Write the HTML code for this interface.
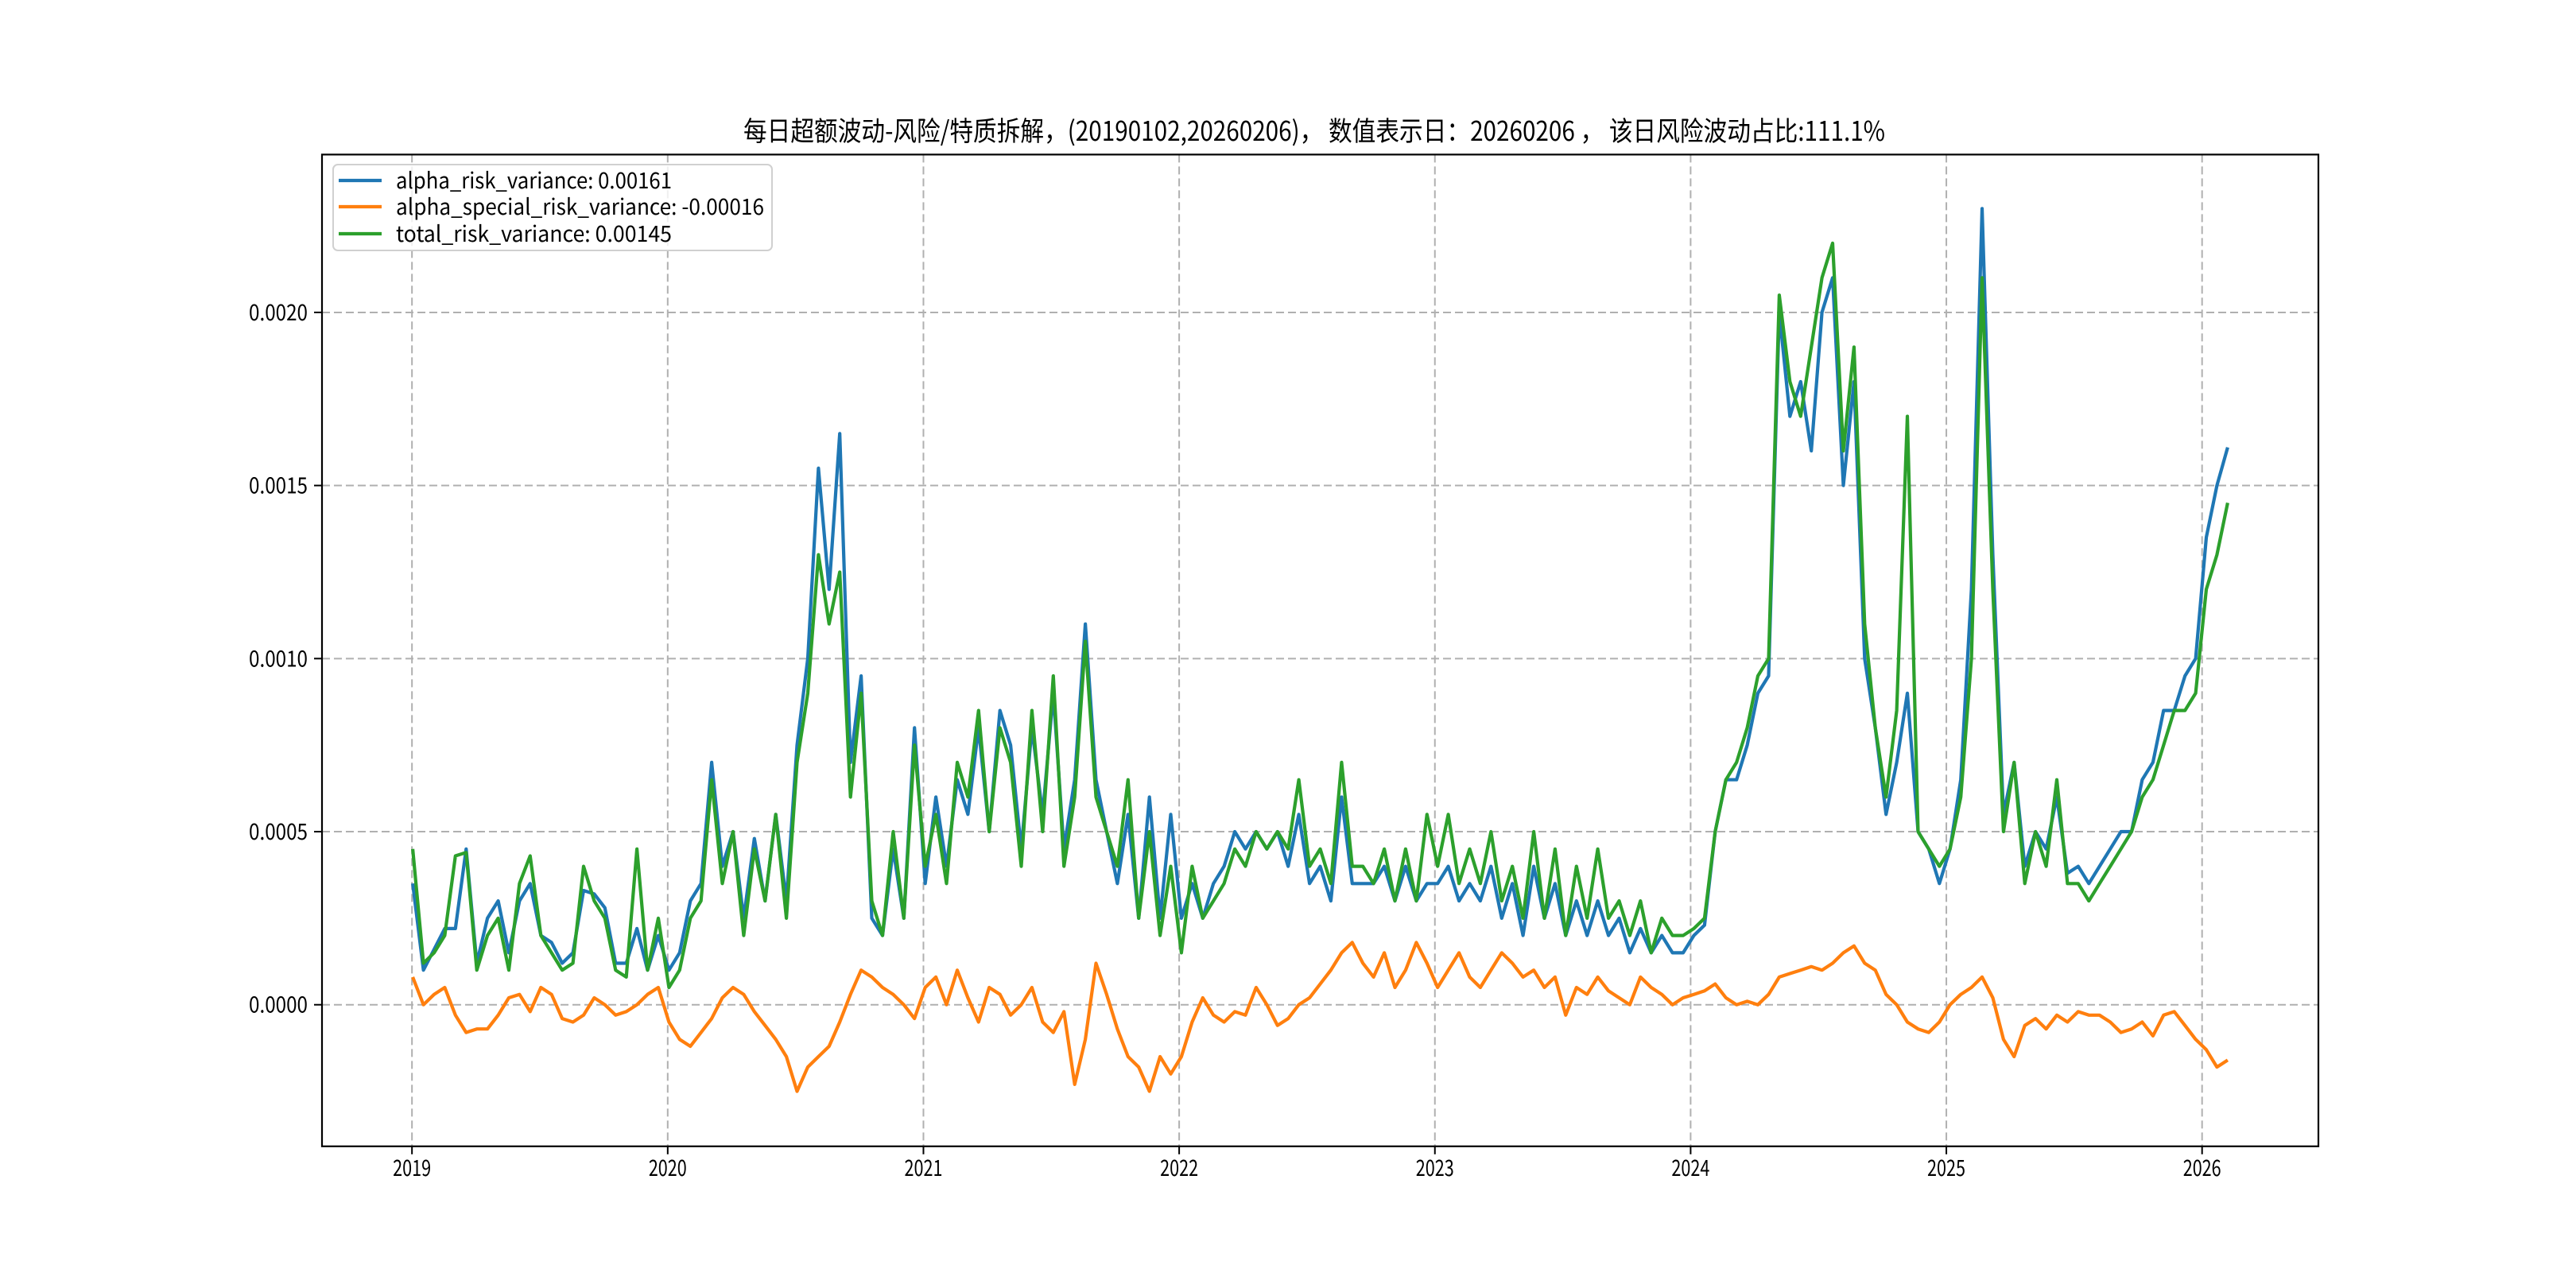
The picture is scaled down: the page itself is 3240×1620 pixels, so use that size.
<!DOCTYPE html>
<html><head><meta charset="utf-8"><style>
html,body{margin:0;padding:0;background:#fff;}
svg{display:block;font-family:"WenQuanYi Zen Hei","Noto Sans CJK SC","Liberation Sans",sans-serif;}
</style></head><body>
<svg id="chart" width="3240" height="1620" viewBox="0 0 3240 1620" xmlns="http://www.w3.org/2000/svg">
<rect x="0" y="0" width="3240" height="1620" fill="#fff"/>
<text x="1653" y="177" font-size="34" text-anchor="middle" textLength="1436" lengthAdjust="spacingAndGlyphs">每日超额波动-风险/特质拆解，(20190102,20260206)， 数值表示日：20260206 ， 该日风险波动占比:111.1%</text>
<g id="grid"></g>
<g id="series"></g>
<rect x="405" y="194.4" width="2511" height="1247.4" fill="none" stroke="#000" stroke-width="2.2"/>
<g id="ticks"></g>
<g>
<rect x="419" y="207" width="552" height="108" rx="6" fill="#fff" fill-opacity="0.8" stroke="#d0d0d0" stroke-width="2"/>
<line x1="426" y1="227" x2="480" y2="227" stroke="#1f77b4" stroke-width="4.2"/>
<text x="498" y="237" font-size="28" textLength="347" lengthAdjust="spacingAndGlyphs">alpha_risk_variance: 0.00161</text>
<line x1="426" y1="260" x2="480" y2="260" stroke="#ff7f0e" stroke-width="4.2"/>
<text x="498" y="270" font-size="28" textLength="463" lengthAdjust="spacingAndGlyphs">alpha_special_risk_variance: -0.00016</text>
<line x1="426" y1="294" x2="480" y2="294" stroke="#2ca02c" stroke-width="4.2"/>
<text x="498" y="304" font-size="28" textLength="347" lengthAdjust="spacingAndGlyphs">total_risk_variance: 0.00145</text>
</g>
</svg>
<script>
// values in units of 1e-4, semi-monthly samples from 2019-01-02 to 2026-02-06
const alphaRisk = [
3.5,1.0,1.6,2.2,2.2,4.5,1.2,2.5,3.0,1.5,3.0,3.5,2.0,1.8,1.2,1.5,3.3,3.2,2.8,1.2,1.2,2.2,1.0,2.0,
1.0,1.5,3.0,3.5,7.0,4.0,5.0,2.5,4.8,3.0,5.5,3.0,7.5,10.0,15.5,12.0,16.5,7.0,9.5,2.5,2.0,4.5,2.5,8.0,
3.5,6.0,4.0,6.5,5.5,8.0,5.0,8.5,7.5,4.5,8.0,5.5,9.0,4.5,6.5,11.0,6.5,5.0,3.5,5.5,2.5,6.0,2.5,5.5,
2.5,3.5,2.5,3.5,4.0,5.0,4.5,5.0,4.5,5.0,4.0,5.5,3.5,4.0,3.0,6.0,3.5,3.5,3.5,4.0,3.0,4.0,3.0,3.5,
3.5,4.0,3.0,3.5,3.0,4.0,2.5,3.5,2.0,4.0,2.5,3.5,2.0,3.0,2.0,3.0,2.0,2.5,1.5,2.2,1.5,2.0,1.5,1.5,
2.0,2.3,5.0,6.5,6.5,7.5,9.0,9.5,20.0,17.0,18.0,16.0,20.0,21.0,15.0,18.0,10.0,8.0,5.5,7.0,9.0,5.0,4.5,3.5,
4.5,6.5,12.0,23.0,13.0,5.5,7.0,4.0,5.0,4.5,6.0,3.8,4.0,3.5,4.0,4.5,5.0,5.0,6.5,7.0,8.5,8.5,9.5,10.0,
13.5,15.0,16.1];
const alphaSpecial = [
0.8,0.0,0.3,0.5,-0.3,-0.8,-0.7,-0.7,-0.3,0.2,0.3,-0.2,0.5,0.3,-0.4,-0.5,-0.3,0.2,0.0,-0.3,-0.2,0.0,0.3,0.5,
-0.5,-1.0,-1.2,-0.8,-0.4,0.2,0.5,0.3,-0.2,-0.6,-1.0,-1.5,-2.5,-1.8,-1.5,-1.2,-0.5,0.3,1.0,0.8,0.5,0.3,0.0,-0.4,
0.5,0.8,0.0,1.0,0.2,-0.5,0.5,0.3,-0.3,0.0,0.5,-0.5,-0.8,-0.2,-2.3,-1.0,1.2,0.3,-0.7,-1.5,-1.8,-2.5,-1.5,-2.0,
-1.5,-0.5,0.2,-0.3,-0.5,-0.2,-0.3,0.5,0.0,-0.6,-0.4,0.0,0.2,0.6,1.0,1.5,1.8,1.2,0.8,1.5,0.5,1.0,1.8,1.2,
0.5,1.0,1.5,0.8,0.5,1.0,1.5,1.2,0.8,1.0,0.5,0.8,-0.3,0.5,0.3,0.8,0.4,0.2,0.0,0.8,0.5,0.3,0.0,0.2,
0.3,0.4,0.6,0.2,0.0,0.1,0.0,0.3,0.8,0.9,1.0,1.1,1.0,1.2,1.5,1.7,1.2,1.0,0.3,0.0,-0.5,-0.7,-0.8,-0.5,
0.0,0.3,0.5,0.8,0.2,-1.0,-1.5,-0.6,-0.4,-0.7,-0.3,-0.5,-0.2,-0.3,-0.3,-0.5,-0.8,-0.7,-0.5,-0.9,-0.3,-0.2,-0.6,-1.0,
-1.3,-1.8,-1.6];
const totalRisk = [
4.5,1.2,1.5,2.0,4.3,4.4,1.0,2.0,2.5,1.0,3.5,4.3,2.0,1.5,1.0,1.2,4.0,3.0,2.5,1.0,0.8,4.5,1.0,2.5,
0.5,1.0,2.5,3.0,6.5,3.5,5.0,2.0,4.5,3.0,5.5,2.5,7.0,9.0,13.0,11.0,12.5,6.0,9.0,3.0,2.0,5.0,2.5,7.5,
4.0,5.5,3.5,7.0,6.0,8.5,5.0,8.0,7.0,4.0,8.5,5.0,9.5,4.0,6.0,10.5,6.0,5.0,4.0,6.5,2.5,5.0,2.0,4.0,
1.5,4.0,2.5,3.0,3.5,4.5,4.0,5.0,4.5,5.0,4.5,6.5,4.0,4.5,3.5,7.0,4.0,4.0,3.5,4.5,3.0,4.5,3.0,5.5,
4.0,5.5,3.5,4.5,3.5,5.0,3.0,4.0,2.5,5.0,2.5,4.5,2.0,4.0,2.5,4.5,2.5,3.0,2.0,3.0,1.5,2.5,2.0,2.0,
2.2,2.5,5.0,6.5,7.0,8.0,9.5,10.0,20.5,18.0,17.0,19.0,21.0,22.0,16.0,19.0,11.0,8.0,6.0,8.5,17.0,5.0,4.5,4.0,
4.5,6.0,10.0,21.0,12.0,5.0,7.0,3.5,5.0,4.0,6.5,3.5,3.5,3.0,3.5,4.0,4.5,5.0,6.0,6.5,7.5,8.5,8.5,9.0,
12.0,13.0,14.5];
const yTicks = [0, 0.0005, 0.0010, 0.0015, 0.0020];
const yTickLabels = ["0.0000","0.0005","0.0010","0.0015","0.0020"];
const xTicks = [2019,2020,2021,2022,2023,2024,2025,2026];
const xTickLabels = ["2019","2020","2021","2022","2023","2024","2025","2026"];
const dateStart = 2019.003, dateEnd = 2026.1;

const NS = "http://www.w3.org/2000/svg";
const L = 405, R = 2916, T = 194.4, B = 1441.8;
const span = dateEnd - dateStart;
const xMin = dateStart - 0.05*span, xMax = dateEnd + 0.05*span;
const yMin = -0.000409, yMax = 0.002456;
function xScale(t){ return L + (t - xMin)/(xMax - xMin)*(R - L); }
function yScale(v){ return B - (v - yMin)/(yMax - yMin)*(B - T); }
function mk(tag, attrs){ const e = document.createElementNS(NS, tag); for (const k in attrs) e.setAttribute(k, attrs[k]); return e; }

const grid = document.getElementById('grid'), ticks = document.getElementById('ticks'), series = document.getElementById('series');
yTicks.forEach((v,i)=>{
  const y = yScale(v);
  const g = mk('line',{x1:L,x2:R,y1:y,y2:y,stroke:'#b0b0b0','stroke-width':2,'stroke-dasharray':'10,5'});
  
  
  grid.appendChild(g);
  const tk = mk('line',{x1:L-10,x2:L,y1:y,y2:y,stroke:'#000','stroke-width':2});
  
  
  ticks.appendChild(tk);
  const tx = mk('text',{x:L-18,y:y+10,'font-size':28,'text-anchor':'end',textLength:74,lengthAdjust:'spacingAndGlyphs'});
  tx.textContent = yTickLabels[i];
  
  
  ticks.appendChild(tx);
});
xTicks.forEach((t,i)=>{
  const x = xScale(t);
  const g = mk('line',{x1:x,x2:x,y1:T,y2:B,stroke:'#b0b0b0','stroke-width':2,'stroke-dasharray':'10,5'});
  
  
  grid.appendChild(g);
  const tk = mk('line',{x1:x,x2:x,y1:B,y2:B+10,stroke:'#000','stroke-width':2});
  
  
  ticks.appendChild(tk);
  const tx = mk('text',{x:x,y:B+37,'font-size':28,'text-anchor':'middle',textLength:48,lengthAdjust:'spacingAndGlyphs'});
  tx.textContent = xTickLabels[i];
  
  
  ticks.appendChild(tx);
});
function drawLine(vals, color, name){
  const n = vals.length;
  const pts = vals.map((v,i)=>{
    const t = dateStart + i*(dateEnd-dateStart)/(n-1);
    return xScale(t).toFixed(1)+','+yScale(v*1e-4).toFixed(1);
  }).join(' ');
  const p = mk('polyline',{points:pts,fill:'none',stroke:color,'stroke-width':4.2,'stroke-linejoin':'round'});
  
  
  series.appendChild(p);
}
drawLine(alphaRisk,'#1f77b4','alpha-risk-line');
drawLine(alphaSpecial,'#ff7f0e','alpha-special-line');
drawLine(totalRisk,'#2ca02c','total-risk-line');
</script>
</body></html>
